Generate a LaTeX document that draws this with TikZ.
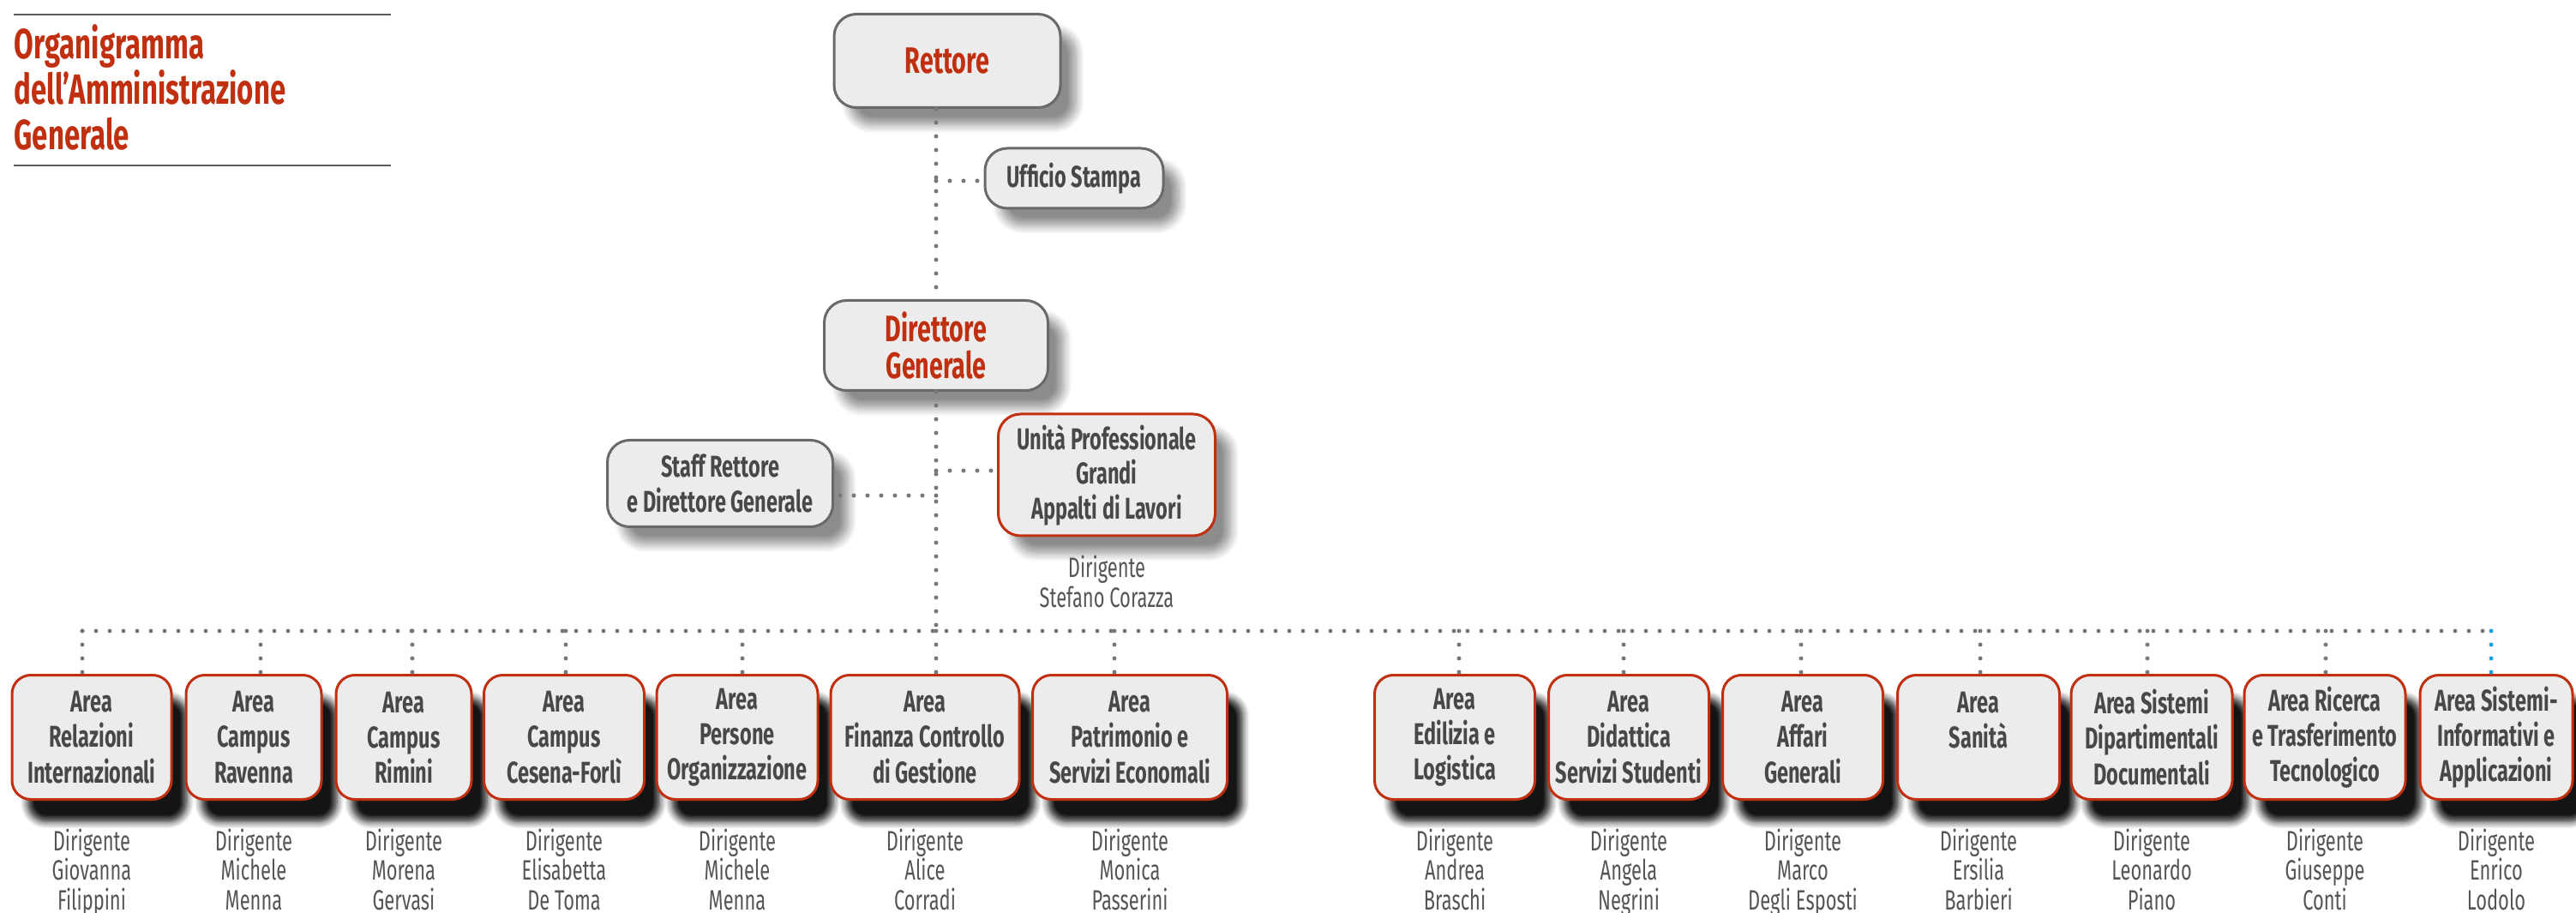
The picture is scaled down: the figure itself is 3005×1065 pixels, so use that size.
\documentclass[tikz,border=0pt]{standalone}
\usepackage{fontspec}
\setmainfont{Fira Sans}[FakeStretch=0.67]
\usetikzlibrary{positioning, shadows.blur}

\definecolor{unired}{RGB}{192,48,16}
\definecolor{boxfill}{RGB}{236,236,236}
\definecolor{boxline}{RGB}{105,105,105}
\definecolor{labelgray}{RGB}{72,72,72}
\definecolor{namegray}{RGB}{85,85,85}
\definecolor{dotgray}{RGB}{120,120,120}
\definecolor{dotblue}{RGB}{20,160,230}
\definecolor{rulegray}{RGB}{90,90,90}

\begin{document}
\begin{tikzpicture}[x=0.1mm, y=-0.1mm,
     dots/.style={dotgray, line width=0.5mm, line cap=round, dash pattern=on 0pt off 1.6mm},
     topbox/.style={draw=boxline, fill=boxfill, line width=0.3mm, rounded corners=2.6mm, align=center, inner sep=0pt,
          blur shadow={shadow xshift=1.8mm, shadow yshift=-2mm, shadow opacity=45, shadow blur steps=10, shadow blur radius=1mm}},
     headbox/.style={topbox, text=unired, font=\bfseries\fontsize{12.2}{12.2}\selectfont},
     staffbox/.style={topbox, text=labelgray, font=\bfseries\fontsize{10}{11.5}\selectfont},
     unitbox/.style={staffbox, draw=unired},
     areabox/.style={draw=unired, fill=boxfill, line width=0.3mm, rounded corners=2.2mm, align=center, inner sep=0pt,
          minimum height=14.5mm, text=labelgray, font=\bfseries\fontsize{10}{11.7}\selectfont,
          blur shadow={shadow xshift=1.8mm, shadow yshift=-2.6mm, shadow opacity=92, shadow blur steps=6, shadow blur radius=0.8mm}},
     dirig/.style={align=center, text=namegray, inner sep=0pt, font=\fontsize{9.3}{9.9}\selectfont}]
               \useasboundingbox (0,0) rectangle (3005,1065);
               % titolo
               \draw[rulegray, line width=0.15mm] (16,17) -- (456,17);
               \draw[rulegray, line width=0.15mm] (16,193) -- (456,193);
               \node[anchor=north west, inner sep=0pt, align=left, text=unired, font=\bfseries\fontsize{14}{15.1}\selectfont] (titolo) at (16,28) {Organigramma\\dell’Amministrazione\\Generale};
               % vertice
               \node[headbox, minimum width=26.4mm, minimum height=10.9mm] (rett) at (1105,71) {Rettore};
               \node[staffbox, minimum width=20.8mm, minimum height=7mm] (uff) at (1253,208) {Ufficio Stampa};
               \node[headbox, minimum width=26.1mm, minimum height=10.5mm] (dir) at (1092,403) {Direttore\\Generale};
               \node[staffbox, minimum width=26.3mm, minimum height=10.1mm] (staff) at (840,564) {Staff Rettore\\e Direttore Generale};
               \node[unitbox, minimum width=25.3mm, minimum height=14.2mm] (unita) at (1291,554) {Unità Professionale\\Grandi\\Appalti di Lavori};
               \node[dirig, below=2.1mm of unita] (dunita) {Dirigente\\Stefano Corazza};
               % aree
               \node[areabox, minimum width=18.6mm] (a1) at (107,860) {Area\\Relazioni\\Internazionali};
               \node[areabox, minimum width=15.8mm] (a2) at (296,860) {Area\\Campus\\Ravenna};
               \node[areabox, minimum width=15.8mm] (a3) at (471,860) {Area\\Campus\\Rimini};
               \node[areabox, minimum width=18.7mm] (a4) at (658,860) {Area\\Campus\\Cesena-Forlì};
               \node[areabox, minimum width=18.8mm] (a5) at (860,860) {Area\\Persone\\Organizzazione};
               \node[areabox, minimum width=22mm] (a6) at (1079,860) {Area\\Finanza Controllo\\di Gestione};
               \node[areabox, minimum width=22.7mm] (a7) at (1318,860) {Area\\Patrimonio e\\Servizi Economali};
               \node[areabox, minimum width=18.7mm] (a8) at (1697,860) {Area\\Edilizia e\\Logistica};
               \node[areabox, minimum width=18.7mm] (a9) at (1900,860) {Area\\Didattica\\Servizi Studenti};
               \node[areabox, minimum width=18.7mm] (a10) at (2103,860) {Area\\Affari\\Generali};
               \node[areabox, minimum width=18.9mm] (a11) at (2308,860) {Area\\Sanità\\\mbox{}};
               \node[areabox, minimum width=18.8mm] (a12) at (2510,860) {Area Sistemi\\Dipartimentali\\Documentali};
               \node[areabox, minimum width=18.8mm] (a13) at (2712,860) {Area Ricerca\\e Trasferimento\\Tecnologico};
               \node[areabox, minimum width=17.8mm] (a14) at (2912,860) {Area Sistemi-\\Informativi e\\Applicazioni};
               % dirigenti
               \node[dirig, below=3.2mm of a1] (d1) {Dirigente\\Giovanna\\Filippini};
               \node[dirig, below=3.2mm of a2] (d2) {Dirigente\\Michele\\Menna};
               \node[dirig, below=3.2mm of a3] (d3) {Dirigente\\Morena\\Gervasi};
               \node[dirig, below=3.2mm of a4] (d4) {Dirigente\\Elisabetta\\De Toma};
               \node[dirig, below=3.2mm of a5] (d5) {Dirigente\\Michele\\Menna};
               \node[dirig, below=3.2mm of a6] (d6) {Dirigente\\Alice\\Corradi};
               \node[dirig, below=3.2mm of a7] (d7) {Dirigente\\Monica\\Passerini};
               \node[dirig, below=3.2mm of a8] (d8) {Dirigente\\Andrea\\Braschi};
               \node[dirig, below=3.2mm of a9] (d9) {Dirigente\\Angela\\Negrini};
               \node[dirig, below=3.2mm of a10] (d10) {Dirigente\\Marco\\Degli Esposti};
               \node[dirig, below=3.2mm of a11] (d11) {Dirigente\\Ersilia\\Barbieri};
               \node[dirig, below=3.2mm of a12] (d12) {Dirigente\\Leonardo\\Piano};
               \node[dirig, below=3.2mm of a13] (d13) {Dirigente\\Giuseppe\\Conti};
               \node[dirig, below=3.2mm of a14] (d14) {Dirigente\\Enrico\\Lodolo};
               % linea principale
               \coordinate (ju) at (1092,211);
               \coordinate (js) at (1092,578);
               \coordinate (jp) at (1092,549);
               \coordinate (b1) at (96,736);
               \coordinate (b2) at (304,736);
               \coordinate (b3) at (481,736);
               \coordinate (b4) at (660,736);
               \coordinate (b5) at (866,736);
               \coordinate (b6) at (1092,736);
               \coordinate (b7) at (1300,736);
               \coordinate (b8) at (1702,736);
               \coordinate (b9) at (1894,736);
               \coordinate (b10) at (2101,736);
               \coordinate (b11) at (2310,736);
               \coordinate (b12) at (2505,736);
               \coordinate (b13) at (2713,736);
               \coordinate (b14) at (2906,736);
               \draw[dots] (dir |- rett.south) -- (dir.north);
               \draw[dots] (dir.south) -- (b6);
               \draw[dots] (ju) -- (uff.west |- ju);
               \draw[dots] (js) -- (staff.east |- js);
               \draw[dots] (jp) -- (unita.west |- jp);
               \draw[dots] (b1) -- (b14);
               \draw[dots] (b1) -- (b1 |- a1.north);
               \draw[dots] (b2) -- (b2 |- a2.north);
               \draw[dots] (b3) -- (b3 |- a3.north);
               \draw[dots] (b4) -- (b4 |- a4.north);
               \draw[dots] (b5) -- (b5 |- a5.north);
               \draw[dots] (b6) -- (b6 |- a6.north);
               \draw[dots] (b7) -- (b7 |- a7.north);
               \draw[dots] (b8) -- (b8 |- a8.north);
               \draw[dots] (b9) -- (b9 |- a9.north);
               \draw[dots] (b10) -- (b10 |- a10.north);
               \draw[dots] (b11) -- (b11 |- a11.north);
               \draw[dots] (b12) -- (b12 |- a12.north);
               \draw[dots] (b13) -- (b13 |- a13.north);
               \draw[dots, dotblue] (b14) -- (b14 |- a14.north);
          \end{tikzpicture}
\end{document}
